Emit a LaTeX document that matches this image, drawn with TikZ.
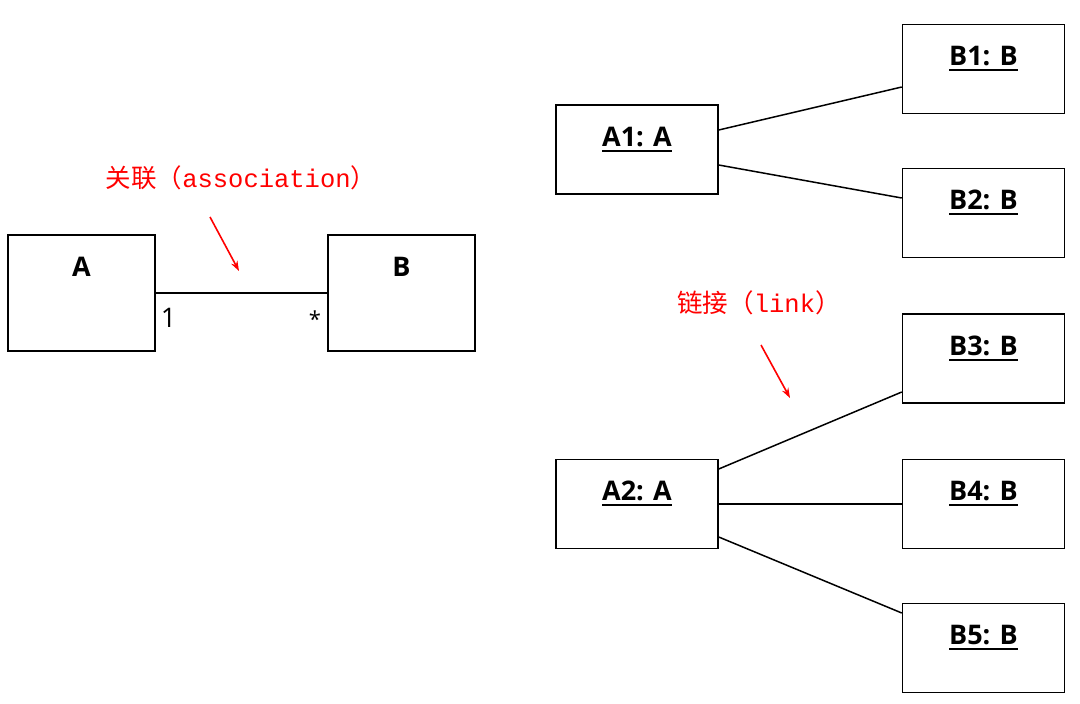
\documentclass[tikz,border=0pt]{standalone}
\usepackage{fontspec}
\setmainfont{Open Sans}
\newfontfamily\cjk{Noto Sans CJK SC}
\newfontfamily\lat{Liberation Mono}
\usetikzlibrary{arrows.meta}
\newcommand\objname[1]{\setbox0\hbox{\textbf{#1}}\rlap{\rule[-5.5pt]{\wd0}{1.8pt}}\box0}

\begin{document}
\begin{tikzpicture}[x=1pt, y=-1pt, >={Stealth[length=10pt,width=7pt]},
		cls/.style={draw, line width=1.5pt, minimum width=147pt, minimum height=116pt, inner sep=0pt},
		obj/.style={draw, line width=1.5pt, minimum width=162pt, minimum height=89pt, inner sep=0pt},
		ttl/.style={anchor=base, yshift=-42pt, font=\fontsize{27}{32}\selectfont},
		link/.style={line width=1.5pt},
		note/.style={text=red, font=\fontsize{25.5}{30}\selectfont}]
			\path[use as bounding box, fill=white] (0,0) rectangle (1080,704);
			% class diagram
			\node[cls, label={[ttl]north:\textbf{A}}] (A) at (81.5,293) {};
			\node[cls, label={[ttl]north:\textbf{B}}] (B) at (401.5,293) {};
			\draw[link] (A.east) -- (B.west);
			\node[anchor=north west, inner sep=0pt, font=\fontsize{27}{32}\selectfont] (m1) at ([xshift=5pt, yshift=-15pt]A.east) {1};
			\node[anchor=north east, inner sep=0pt, font=\fontsize{22}{26}\selectfont] (m2) at ([xshift=-6pt, yshift=-18pt]B.west) {*};
			\node[note] (asc) at (241,178) {{\cjk 关联（}{\lat association}{\cjk ）}};
			\coordinate (asc1) at (210,217);
			\coordinate (asc2) at (239,271);
			\draw[->, red, line width=1.6pt] (asc1) -- (asc2);
			
			% object diagram
			\node[obj, label={[ttl]north:\objname{A1: A}}] (A1) at (637,149.5) {};
			\node[obj, label={[ttl]north:\objname{B1: B}}] (B1) at (983.5,69) {};
			\node[obj, label={[ttl]north:\objname{B2: B}}] (B2) at (983.5,213) {};
			\draw[link] ([yshift=19.5pt]A1.east) -- ([yshift=-18pt]B1.west);
			\draw[link] ([yshift=-15.5pt]A1.east) -- ([yshift=15pt]B2.west);
			
			\node[obj, label={[ttl]north:\objname{A2: A}}] (A2) at (637,504) {};
			\node[obj, label={[ttl]north:\objname{B3: B}}] (B3) at (983.5,358.5) {};
			\node[obj, label={[ttl]north:\objname{B4: B}}] (B4) at (983.5,504) {};
			\node[obj, label={[ttl]north:\objname{B5: B}}] (B5) at (983.5,648) {};
			\draw[link] ([yshift=35pt]A2.east) -- ([yshift=-33.5pt]B3.west);
			\draw[link] (A2.east) -- (B4.west);
			\draw[link] ([yshift=-33pt]A2.east) -- ([yshift=35pt]B5.west);
			\node[note] (lnk) at (759,303) {{\cjk 链接（}{\lat link}{\cjk ）}};
			\coordinate (lnk1) at (761,345);
			\coordinate (lnk2) at (790,398);
			\draw[->, red, line width=1.6pt] (lnk1) -- (lnk2);
		\end{tikzpicture}
\end{document}
